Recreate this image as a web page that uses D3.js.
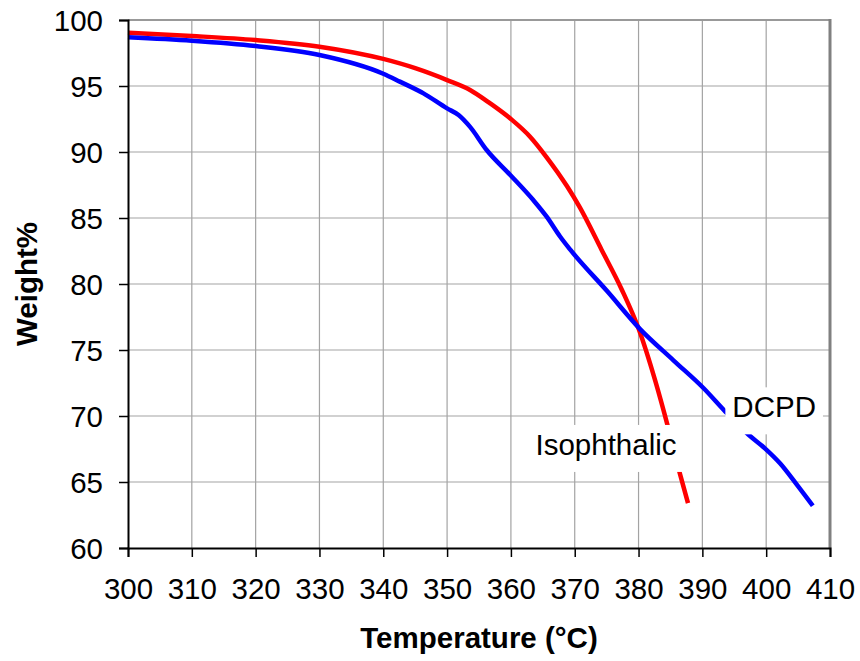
<!DOCTYPE html>
<html>
<head>
<meta charset="utf-8">
<script src="https://cdn.jsdelivr.net/npm/d3@7"></script>
<style>
  html, body { margin: 0; padding: 0; background: #fff; }
  svg { display: block; font-family: "Liberation Sans", Arial, sans-serif; }
</style>
</head>
<body>
<svg id="chart" width="860" height="661"></svg>
<script>
// Thermogravimetric curves: weight % vs temperature for two resins
const isoTemp   = [300, 310, 320, 330, 340, 345, 350, 353.6, 356.7, 360, 363, 365.6, 368.8, 370.8, 374.2, 377.4, 380.1, 382.6, 384.6, 386.5, 387.75];
const isoWeight = [99.04, 98.79, 98.48, 97.98, 97.05, 96.35, 95.45, 94.7, 93.7, 92.5, 91.16, 89.6, 87.4, 85.8, 82.6, 79.55, 76.5, 72.7, 69.2, 65.6, 63.4];

const dcpdTemp   = [300, 310, 320, 330, 340, 342.6, 346.3, 350, 351.8, 353.6, 356.2, 359.9, 363.5, 365.6, 367.7, 369.3, 375, 380.2, 385.5, 390.2, 393.6, 397.2, 399.8, 402.2, 404.8, 407.3];
const dcpdWeight = [98.69, 98.43, 98.03, 97.35, 95.93, 95.33, 94.44, 93.3, 92.8, 91.9, 90.15, 88.26, 86.36, 85.1, 83.6, 82.6, 79.5, 76.6, 74.2, 72.1, 70.33, 68.6, 67.55, 66.4, 64.8, 63.2];

const xTicks = [300, 310, 320, 330, 340, 350, 360, 370, 380, 390, 400, 410];
const yTicks = [60, 65, 70, 75, 80, 85, 90, 95, 100];

const seriesNames  = ["Isophthalic", "DCPD"];
const seriesColors = ["#ff0000", "#0000ff"];
// label anchor points (temperature, weight) for the in-plot series labels
const labelTemp   = [374.9, 401.25];
const labelWeight = [67.05, 69.9];

const xTitle = "Temperature (°C)";
const yTitle = "Weight%";

const FONT = 29.5;

const svg = d3.select("#chart");
const margin = { top: 20, right: 30, bottom: 113, left: 128 };
const W = 860, H = 661;
const iw = W - margin.left - margin.right;
const ih = H - margin.top - margin.bottom;

const x = d3.scaleLinear().domain([300, 410]).range([margin.left, margin.left + iw]);
const y = d3.scaleLinear().domain([60, 100]).range([margin.top + ih, margin.top]);

// grid
const grid = svg.append("g").attr("stroke", "#a3a3a3").attr("stroke-width", 1.2);
grid.selectAll(".vg").data(xTicks.slice(1, -1)).join("line")
  .attr("x1", d => x(d)).attr("x2", d => x(d))
  .attr("y1", y(60)).attr("y2", y(100));
grid.selectAll(".hg").data(yTicks.slice(1, -1)).join("line")
  .attr("y1", d => y(d)).attr("y2", d => y(d))
  .attr("x1", x(300)).attr("x2", x(410));

// series lines
const series = [
  { name: seriesNames[0], color: seriesColors[0], pts: isoTemp.map((t, i) => [t, isoWeight[i]]) },
  { name: seriesNames[1], color: seriesColors[1], pts: dcpdTemp.map((t, i) => [t, dcpdWeight[i]]) }
];
const line = d3.line().x(d => x(d[0])).y(d => y(d[1])).curve(d3.curveMonotoneX);
svg.append("g").selectAll("path").data(series).join("path")
  .attr("d", d => line(d.pts))
  .attr("fill", "none")
  .attr("stroke", d => d.color)
  .attr("stroke-width", 4.5)
  .attr("stroke-linejoin", "round")
  .attr("stroke-linecap", "butt");

// in-plot series labels on white boxes
const labels = svg.append("g");
seriesNames.forEach((name, i) => {
  const g = labels.append("g");
  const rect = g.append("rect").attr("fill", "#fff");
  const txt = g.append("text")
    .attr("x", x(labelTemp[i]))
    .attr("y", y(labelWeight[i]))
    .attr("text-anchor", "middle")
    .attr("font-size", FONT)
    .attr("fill", "#000")
    .text(name);
  const bb = txt.node().getBBox();
  rect.attr("x", bb.x - 7).attr("y", bb.y - 3)
      .attr("width", bb.width + 14).attr("height", bb.height + 14);
});

// frame: gray top and right edges
svg.append("line").attr("x1", x(300)).attr("x2", x(410)).attr("y1", y(100)).attr("y2", y(100))
  .attr("stroke", "#999").attr("stroke-width", 2);
svg.append("line").attr("x1", x(410)).attr("x2", x(410)).attr("y1", y(100) - 1).attr("y2", y(60))
  .attr("stroke", "#808080").attr("stroke-width", 3);

// axes
const xAxis = d3.axisBottom(x).tickValues(xTicks).tickSize(9).tickPadding(21).tickFormat(d3.format("d"));
const yAxis = d3.axisLeft(y).tickValues(yTicks).tickSize(9).tickPadding(16).tickFormat(d3.format("d"));

const gx = svg.append("g").attr("transform", `translate(0,${y(60)})`).call(xAxis);
const gy = svg.append("g").attr("transform", `translate(${x(300)},0)`).call(yAxis);
[gx, gy].forEach(g => {
  g.select(".domain").attr("stroke", "#000").attr("stroke-width", 2);
  g.selectAll(".tick line").attr("stroke", "#000").attr("stroke-width", 1.5);
  g.selectAll(".tick text").attr("font-size", FONT).attr("fill", "#000")
    .attr("font-family", '"Liberation Sans", Arial, sans-serif');
});
gx.selectAll(".tick text").attr("dy", "0.71em");
gy.selectAll(".tick text").attr("dy", "0.35em");

// axis titles
svg.append("text")
  .attr("x", (x(300) + x(410)) / 2)
  .attr("y", 648)
  .attr("text-anchor", "middle")
  .attr("font-size", FONT).attr("font-weight", "bold")
  .text(xTitle);
svg.append("text")
  .attr("transform", `translate(37,${(y(60) + y(100)) / 2}) rotate(-90)`)
  .attr("text-anchor", "middle")
  .attr("font-size", FONT).attr("font-weight", "bold")
  .text(yTitle);
</script>
</body>
</html>
